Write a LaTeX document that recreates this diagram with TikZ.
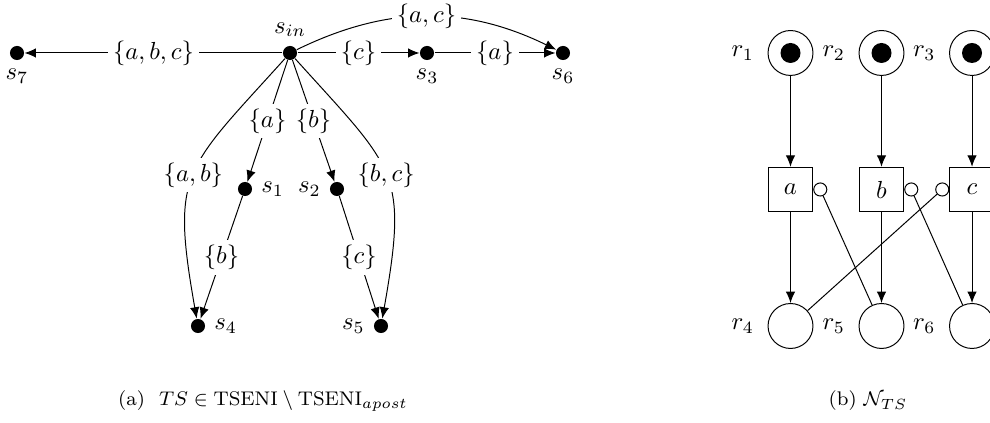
\documentclass[tikz,border=0pt]{standalone}
\usetikzlibrary{arrows.meta}
\begin{document}
\begin{tikzpicture}[x=0.405pt,y=0.405pt,
  dot/.style={circle,fill,inner sep=0pt,minimum size=5.7pt},
  place/.style={circle,draw,inner sep=0pt,minimum size=18.2pt},
  trans/.style={rectangle,draw,inner sep=0pt,minimum size=18pt},
  tok/.style={circle,fill,inner sep=0pt,minimum size=8.1pt},
  inh/.style={circle,draw,inner sep=0pt,minimum size=5.3pt},
  lbl/.style={fill=white,inner sep=2pt},
  arr/.style={-{Latex[length=4.6pt,width=3.8pt]}},
  plabel/.style={label distance=2pt},
  captext/.style={font=\footnotesize}]
\useasboundingbox (0,0) rectangle (990,423);
% left transition system
\node[dot,label={above:$s_{in}$}] (sin) at (290,370) {};
\node[dot,label={below:$s_7$}] (s7) at (17,370) {};
\node[dot,label={below:$s_3$}] (s3) at (427,370) {};
\node[dot,label={below:$s_6$}] (s6) at (563,370) {};
\node[dot,label={right:$s_1$}] (s1) at (245,234) {};
\node[dot,label={left:$s_2$}] (s2) at (337,234) {};
\node[dot,label={right:$s_4$}] (s4) at (198,97) {};
\node[dot,label={left:$s_5$}] (s5) at (381,97) {};
\draw[arr] (sin) -- node[lbl] {$\{a,b,c\}$} (s7);
\draw[arr] (sin) -- node[lbl] {$\{c\}$} (s3);
\draw[arr] (s3) -- node[lbl] {$\{a\}$} (s6);
\draw[arr] (sin) to[bend left=26] node[lbl,inner ysep=1pt] {$\{a,c\}$} (s6);
\draw[arr] (sin) -- node[lbl] {$\{a\}$} (s1);
\draw[arr] (sin) -- node[lbl] {$\{b\}$} (s2);
\draw[arr] (s1) -- node[lbl] {$\{b\}$} (s4);
\draw[arr] (s2) -- node[lbl] {$\{c\}$} (s5);
\draw[arr] (sin) to[out=228,in=100,looseness=1.4] node[lbl] {$\{a,b\}$} (s4);
\draw[arr] (sin) to[out=312,in=80,looseness=1.4] node[lbl] {$\{b,c\}$} (s5);
% right Petri net
\node[place,label={[plabel]left:$r_1$}] (r1) at (790.5,370) {};
\node[place,label={[plabel]left:$r_2$}] (r2) at (881.5,370) {};
\node[place,label={[plabel]left:$r_3$}] (r3) at (972,370) {};
\node[tok] (k1) at (r1) {};
\node[tok] (k2) at (r2) {};
\node[tok] (k3) at (r3) {};
\node[trans] (a) at (790.5,233.5) {$a$};
\node[trans] (b) at (881.5,233.5) {$b$};
\node[trans] (c) at (972,233.5) {$c$};
\node[place,label={[plabel]left:$r_4$}] (r4) at (790.5,97) {};
\node[place,label={[plabel]left:$r_5$}] (r5) at (881.5,97) {};
\node[place,label={[plabel]left:$r_6$}] (r6) at (972,97) {};
\node[inh,anchor=west] (ia) at (a.east) {};
\node[inh,anchor=west] (ib) at (b.east) {};
\node[inh,anchor=east] (ic) at (c.west) {};
\draw[arr] (r1) -- (a);
\draw[arr] (r2) -- (b);
\draw[arr] (r3) -- (c);
\draw[arr] (a) -- (r4);
\draw[arr] (b) -- (r5);
\draw[arr] (c) -- (r6);
\draw (ia) -- (r5);
\draw (ib) -- (r6);
\draw (ic) -- (r4);
% captions
\node[captext] (capa) at (263,22) {(a)\ \ $TS \in \mathrm{TSENI} \setminus \mathrm{TSENI}_{apost}$};
\node[captext] (capb) at (868,22) {(b) $\mathcal{N}_{TS}$};
\end{tikzpicture}
\end{document}
